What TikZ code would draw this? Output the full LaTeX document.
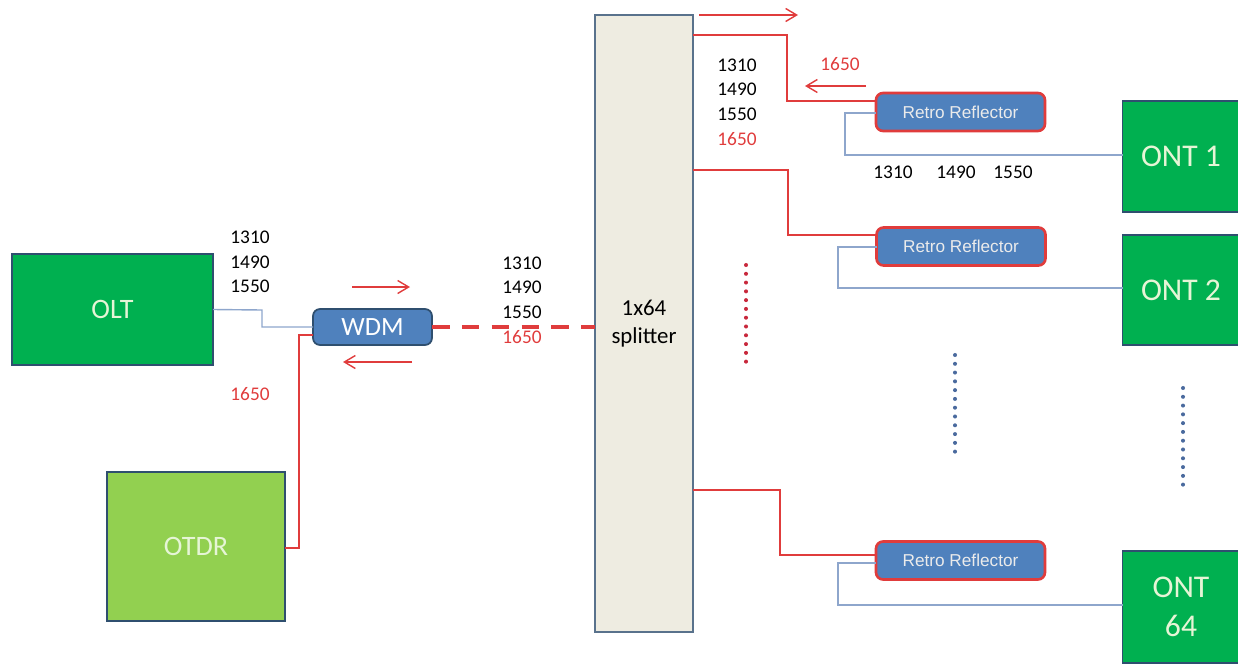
\documentclass[tikz,border=0pt]{standalone}
\usepackage{fontspec}
\setmainfont{Carlito}
\newfontfamily\rrfont{Liberation Sans}
\usepackage{tikz}
\usetikzlibrary{arrows.meta,positioning,calc}
\definecolor{colt}{HTML}{00B050}
\definecolor{cotdr}{HTML}{92D050}
\definecolor{cbox}{HTML}{2F4F6F}
\definecolor{cwdm}{HTML}{4F81BD}
\definecolor{cspl}{HTML}{EEECE1}
\definecolor{cred}{HTML}{E03C3C}
\definecolor{cfib}{HTML}{8EA6CC}
\definecolor{cpale}{HTML}{E6F5D6}
\definecolor{cdotr}{HTML}{C8283C}
\definecolor{cdotb}{HTML}{4A6A9E}
\tikzset{
  box/.style={draw=cbox, line width=1pt, inner sep=0pt, outer sep=0pt, align=center},
  olt/.style={box, fill=colt, text=cpale, font=\fontsize{16}{19}\selectfont},
  otdr/.style={box, fill=cotdr, text=cpale, font=\fontsize{16}{19}\selectfont},
  ont/.style={olt, minimum width=2.34cm, font=\fontsize{18}{22}\selectfont},
  wdm/.style={box, rounded corners=4pt, fill=cwdm, text=white, minimum width=2.38cm, minimum height=0.72cm, font=\fontsize{15}{18}\selectfont},
  retro/.style={box, draw=cred, line width=1.5pt, rounded corners=4pt, fill=cwdm, text=white!92!black, minimum width=3.38cm, minimum height=0.76cm, font=\rrfont\fontsize{9.8}{11}\selectfont},
  split/.style={box, fill=cspl, draw=cbox!80, minimum width=1.96cm, minimum height=12.34cm, font=\fontsize{13}{16}\selectfont},
  lam/.style={inner sep=0pt, align=left, font=\fontsize{11}{14}\selectfont},
  fib/.style={draw=cfib, line width=0.8pt},
  red/.style={draw=cred, line width=0.8pt},
  trunk/.style={draw=cred, line width=2.6pt, dash pattern=on 10pt off 7pt},
  dir/.style={red, -{Straight Barb[length=2.2mm, width=2.6mm]}},
  dots/.style={line width=2.3pt, line cap=round, dash pattern=on 0pt off 5pt},
}
\begin{document}
\begin{tikzpicture}[x=0.02cm, y=-0.02cm]
\useasboundingbox (0,0) rectangle (1238,663);
% head end
\node[olt, minimum width=4.02cm, minimum height=2.22cm] (olt) at (112.5,309.5) {OLT};
\node[otdr, minimum width=3.56cm, minimum height=2.98cm] (otdr) at (196,546.5) {OTDR};
\node[wdm] (wdm) at (372.5,327) {WDM};
\node[split] (spl) at (644,323.5) {1x64\\splitter};
% retro reflectors and ONTs
\node[retro] (rr1) at (960.5,112) {Retro Reflector};
\node[retro] (rr2) at (961,246.5) {Retro Reflector};
\node[retro] (rr3) at (960.5,560.5) {Retro Reflector};
\node[ont, minimum height=2.22cm] (ont1) at (1181,156.5) {ONT 1};
\node[ont, minimum height=2.2cm] (ont2) at (1181,290) {ONT 2};
\node[ont, minimum height=2.24cm] (ont64) at (1181,607) {ONT\\64};
% wavelengths
\node[lam] (w1) at (250,262) {1310\\1490\\1550};
\node[lam, text=cred] (w2) at (250,394) {1650};
\node[lam] (w3) at (522,300) {1310\\1490\\1550\\\textcolor{cred}{1650}};
\node[lam] (w4) at (737,102) {1310\\1490\\1550\\\textcolor{cred}{1650}};
\node[lam, text=cred] (w5) at (840,64) {1650};
\node[lam] (w6) at (893,172) {1310};
\node[lam] (w7) at (956,172) {1490};
\node[lam] (w8) at (1013,172) {1550};
% fibres
\draw[fib] (olt.east) -- (262,310) -- (262,327) -- (wdm.west);
\draw[red] (otdr.east |- 0,548) -- (299,548) -- (299,335) -- (wdm.west |- 0,335);
\draw[trunk] (wdm.east) -- (spl.west |- wdm.east);
\draw[red] (spl.east |- 0,35) -- (787,35) -- (787,101) -- (rr1.west |- 0,101);
\draw[red] (spl.east |- 0,170) -- (788,170) -- (788,235) -- (rr2.west |- 0,235);
\draw[red] (spl.east |- 0,490) -- (780,490) -- (780,555) -- (rr3.west |- 0,555);
\draw[fib] (rr1.west |- 0,113) -- (845,113) -- (845,155) -- (ont1.west |- 0,155);
\draw[fib] (rr2.west |- 0,247) -- (838,247) -- (838,288) -- (ont2.west |- 0,288);
\draw[fib] (rr3.west |- 0,563) -- (838,563) -- (838,605) -- (ont64.west |- 0,605);
% directions
\coordinate (a1) at (352,287); \coordinate (b1) at (410,287);
\coordinate (a2) at (412,362); \coordinate (b2) at (343,362);
\coordinate (a3) at (699,15);  \coordinate (b3) at (798,15);
\coordinate (a4) at (866,86);  \coordinate (b4) at (805,86);
\draw[dir] (a1) -- (b1);
\draw[dir] (a2) -- (b2);
\draw[dir] (a3) -- (b3);
\draw[dir] (a4) -- (b4);
% more ports
\coordinate (d1) at (746,265); \coordinate (e1) at (746,368);
\coordinate (d2) at (955,355); \coordinate (e2) at (955,460);
\coordinate (d3) at (1183,388); \coordinate (e3) at (1183,492);
\draw[dots, cdotr] (d1) -- (e1);
\draw[dots, cdotb] (d2) -- (e2);
\draw[dots, cdotb] (d3) -- (e3);
\end{tikzpicture}
\end{document}
